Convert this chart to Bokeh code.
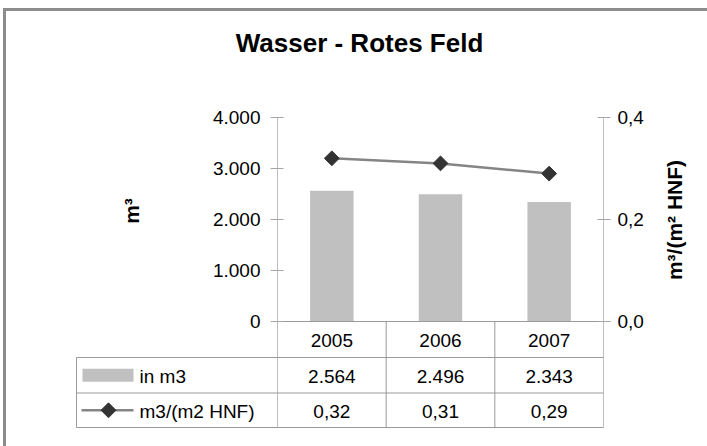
import math
from bokeh.plotting import figure
from bokeh.models import Range1d, LinearAxis, FixedTicker, CustomJSTickFormatter
from bokeh.core.properties import value
from bokeh.embed import file_html
from bokeh.resources import INLINE

# ---------------- data ----------------
years = ["2005", "2006", "2007"]
volume_m3 = [2564, 2496, 2343]
ratio_m3_per_m2 = [0.32, 0.31, 0.29]
left_ticks = [0, 1000, 2000, 3000, 4000]
right_ticks = [0.0, 0.2, 0.4]
series_names = ["in m3", "m3/(m2 HNF)"]
title_text = "Wasser - Rotes Feld"
left_axis_title = "m³"
right_axis_title = "m³/(m² HNF)"
LEFT_MAX = 4000
RIGHT_MAX = 0.4


def de_int(v):
    return f"{v:,}".replace(",", ".")


def de_dec(v):
    return f"{v:.2f}".replace(".", ",")


# ---------------- layout (page pixels) ----------------
W, H = 707, 446
AX_L, AX_R = 277, 603          # left / right value axes
Y0, Y_TOP = 321, 117           # zero line, top of value axes
FR_L, FR_R, FR_B = 75, 707, 428  # frame edges (frame also holds titles and data table)
ROW_LINES = [357, 392.5, 427]  # table row separators below the zero line
TABLE_L = 76
FONT = "Liberation Sans"
FS = "19px"
AXIS_C = "#bfbfbf"
LINE_C = "#9a9a9a"

n = len(years)
px_per_x = (AX_R - AX_L) / n
px_per_y = (Y0 - Y_TOP) / LEFT_MAX
px_per_r = (Y0 - Y_TOP) / RIGHT_MAX


def X(px):
    return (px - AX_L) / px_per_x


def Y(py):
    return (Y0 - py) / px_per_y


def R(py):
    return (Y0 - py) / px_per_r


x_range = Range1d(X(FR_L), X(FR_R))
y_range = Range1d(Y(FR_B), Y(0))
r_range = Range1d(R(FR_B), R(0))

p = figure(width=W, height=H, x_range=x_range, y_range=y_range,
           x_axis_type=None, y_axis_type=None,
           output_backend="svg", toolbar_location=None,
           min_border_left=FR_L, min_border_right=W - FR_R,
           min_border_top=0, min_border_bottom=H - FR_B)
p.outline_line_color = None
p.border_fill_color = None
p.background_fill_color = None
p.styles = {"box-shadow": ("inset 3px 0 0 0 #ffffff, inset 0 8px 0 0 #ffffff, "
                           "inset 6px 0 0 0 #8c8c8c, inset 0 11px 0 0 #8c8c8c")}

p.extra_y_ranges = {"r": r_range}

# left value axis, fixed at the first category boundary
yl = LinearAxis(ticker=FixedTicker(ticks=left_ticks),
                formatter=CustomJSTickFormatter(
                    code="return tick.toFixed(0).replace(/\\B(?=(\\d{3})+(?!\\d))/g, '.');"),
                fixed_location=0)
# right value axis, fixed at the last category boundary
yr = LinearAxis(y_range_name="r", ticker=FixedTicker(ticks=right_ticks),
                formatter=CustomJSTickFormatter(code="return tick.toFixed(1).replace('.', ',');"),
                fixed_location=n)
for ax in (yl, yr):
    ax.axis_line_color = None
    ax.major_tick_line_color = "#a6a6a6"
    ax.major_tick_in = 6
    ax.major_tick_out = 7
    ax.minor_tick_line_color = None
    ax.major_label_text_font = FONT
    ax.major_label_text_font_size = FS
    ax.major_label_text_color = "black"
yl.major_label_standoff = 10
yr.major_label_standoff = 7
p.add_layout(yl, "left")
p.add_layout(yr, "right")

# axis lines (they continue down as the outer lines of the data table)
ry = [Y(v) for v in ROW_LINES]
p.segment(x0=[0, n], y0=[LEFT_MAX, LEFT_MAX], x1=[0, n], y1=[ry[-1], ry[-1]],
          line_color=AXIS_C, line_width=1)

# ---------------- chart marks ----------------
xc = [i + 0.5 for i in range(n)]
p.vbar(x=xc, top=volume_m3, width=0.4, fill_color="#c0c0c0", line_color=None)

p.line(xc, ratio_m3_per_m2, y_range_name="r", line_color="#858585", line_width=2.5)
p.scatter(xc, ratio_m3_per_m2, y_range_name="r", marker="square", angle=math.pi / 4,
          size=10.5, fill_color="#333333", line_color="#333333")

# ---------------- data table ----------------
p.segment(x0=[0], y0=[0], x1=[n], y1=[0], line_color=LINE_C, line_width=1)
p.segment(x0=[X(TABLE_L)] * len(ry), y0=ry, x1=[n] * len(ry), y1=ry,
          line_color=LINE_C, line_width=1)
p.segment(x0=list(range(1, n)), y0=[0] * (n - 1), x1=list(range(1, n)), y1=[ry[-1]] * (n - 1),
          line_color=LINE_C, line_width=1)
p.segment(x0=[X(TABLE_L)], y0=[ry[0]], x1=[X(TABLE_L)], y1=[ry[-1]],
          line_color=LINE_C, line_width=1)

row_centers = [(Y0 + ROW_LINES[0]) / 2, (ROW_LINES[0] + ROW_LINES[1]) / 2,
               (ROW_LINES[1] + ROW_LINES[2]) / 2]
row_texts = [years, [de_int(v) for v in volume_m3], [de_dec(v) for v in ratio_m3_per_m2]]
for rc, texts in zip(row_centers, row_texts):
    p.text(x=xc, y=[Y(rc + 1)] * n, text=texts, text_font=value(FONT),
           text_font_size=FS, text_align="center", text_baseline="middle",
           text_color="black")

# legend column
p.quad(left=[X(82)], right=[X(133)], top=[Y(row_centers[1] - 6.5)],
       bottom=[Y(row_centers[1] + 6.5)], fill_color="#c0c0c0", line_color=None)
p.segment(x0=[X(81)], y0=[Y(row_centers[2])], x1=[X(133)], y1=[Y(row_centers[2])],
          line_color="#858585", line_width=2.5)
p.scatter([X(108)], [Y(row_centers[2])], marker="square", angle=math.pi / 4,
          size=10.5, fill_color="#333333", line_color="#333333")
p.text(x=[X(139)] * 2, y=[Y(row_centers[1] + 1), Y(row_centers[2] + 1)], text=series_names,
       text_font=value(FONT), text_font_size=FS, text_align="left",
       text_baseline="middle", text_color="black")

# axis titles, rotated to read bottom-to-top
p.text(x=[X(131), X(674)], y=[Y(210.5), Y(219.5)], text=[left_axis_title, right_axis_title],
       angle=math.pi / 2, text_font=value(FONT), text_font_size="21px",
       text_font_style="bold", text_align="center", text_baseline="middle",
       text_color="black")

# chart title
p.text(x=[X(359)], y=[Y(42)], text=[title_text],
       text_font=value(FONT), text_font_size="26px", text_font_style="bold",
       text_align="center", text_baseline="middle", text_color="black")

open("out.html", "w").write(file_html(p, INLINE))
